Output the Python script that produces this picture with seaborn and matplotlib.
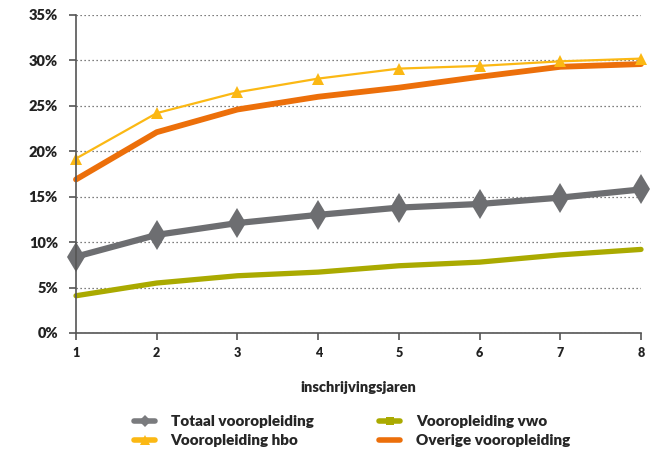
import numpy as np
import pandas as pd
import seaborn as sns
from matplotlib import pyplot as plt
from matplotlib.lines import Line2D

years = [1, 2, 3, 4, 5, 6, 7, 8]
totaal = [8.4, 10.8, 12.1, 13.0, 13.8, 14.2, 14.9, 15.8]
vwo = [4.1, 5.5, 6.3, 6.7, 7.4, 7.8, 8.6, 9.2]
hbo = [19.2, 24.2, 26.5, 28.0, 29.1, 29.4, 29.9, 30.2]
overige = [16.9, 22.1, 24.6, 26.0, 27.0, 28.2, 29.3, 29.6]

series_names = ["Totaal vooropleiding", "Vooropleiding hbo", "Vooropleiding vwo", "Overige vooropleiding"]

df = pd.DataFrame({
    "jaar": years * 4,
    "pct": totaal + hbo + vwo + overige,
    "serie": np.repeat(series_names, len(years)),
})

styles = {
    "Totaal vooropleiding": dict(color="#6d6e71", lw=4.5, marker="d", ms=15),
    "Vooropleiding hbo": dict(color="#fbb814", lw=1.6, marker="^", ms=8),
    "Vooropleiding vwo": dict(color="#aaaa00", lw=3.8, marker=None, ms=0),
    "Overige vooropleiding": dict(color="#ec6f0a", lw=4.2, marker=None, ms=0),
}

sns.set_style("white")
plt.rcParams["font.family"] = ["Lato", "DejaVu Sans"]

fig = plt.figure(figsize=(6.64, 4.54), dpi=100)
ax = fig.add_axes([76 / 664, 1 - 333 / 454, (641 - 76) / 664, (333 - 15) / 454])

for name in ["Vooropleiding vwo", "Totaal vooropleiding", "Overige vooropleiding", "Vooropleiding hbo"]:
    st = styles[name]
    sub = df[df["serie"] == name]
    sns.lineplot(data=sub, x="jaar", y="pct", ax=ax, color=st["color"], linewidth=st["lw"],
                 marker=st["marker"], markersize=st["ms"], markeredgewidth=0, legend=False,
                 solid_joinstyle="round", solid_capstyle="round", clip_on=False)

ax.set_xlim(1, 8)
ax.set_ylim(0, 35)
ax.set_xticks(years)
ax.set_yticks(range(0, 36, 5))
ax.set_yticklabels([f"{v}%" for v in range(0, 36, 5)], fontweight="heavy", fontsize=10.5, color="#222222")
ax.set_xticklabels([str(y) for y in years], fontweight="heavy", fontsize=9, color="#222222")
ax.yaxis.grid(True, linestyle=(0, (1, 2.2)), color="#555555", linewidth=0.9)
ax.set_axisbelow(True)
for s in ["top", "right"]:
    ax.spines[s].set_visible(False)
for s in ["left", "bottom"]:
    ax.spines[s].set_color("#555555")
    ax.spines[s].set_linewidth(1.2)
ax.tick_params(axis="both", length=5, width=1.2, color="#555555", direction="out", left=True, bottom=True)
ax.tick_params(axis="y", pad=8)
ax.tick_params(axis="x", pad=5)
ax.set_xlabel("inschrijvingsjaren", fontweight="heavy", fontsize=10.5, labelpad=16)
ax.set_ylabel("")

handles = [
    Line2D([], [], color="#7a7b7e", lw=4, marker="D", ms=6, markeredgewidth=0),
    Line2D([], [], color="#fbb814", lw=4, marker="^", ms=7, markeredgewidth=0),
    Line2D([], [], color="#aaaa00", lw=4, marker="s", ms=6, markeredgewidth=0),
    Line2D([], [], color="#ec6f0a", lw=4),
]
fig.legend(handles, series_names, loc="center", bbox_to_anchor=(0.53, 1 - 431 / 454), ncol=2,
           frameon=False, prop={"weight": "heavy", "size": 11}, handlelength=1.4,
           columnspacing=4.3, labelspacing=0.4, handletextpad=1.0)

plt.savefig("out.png", dpi=100)
